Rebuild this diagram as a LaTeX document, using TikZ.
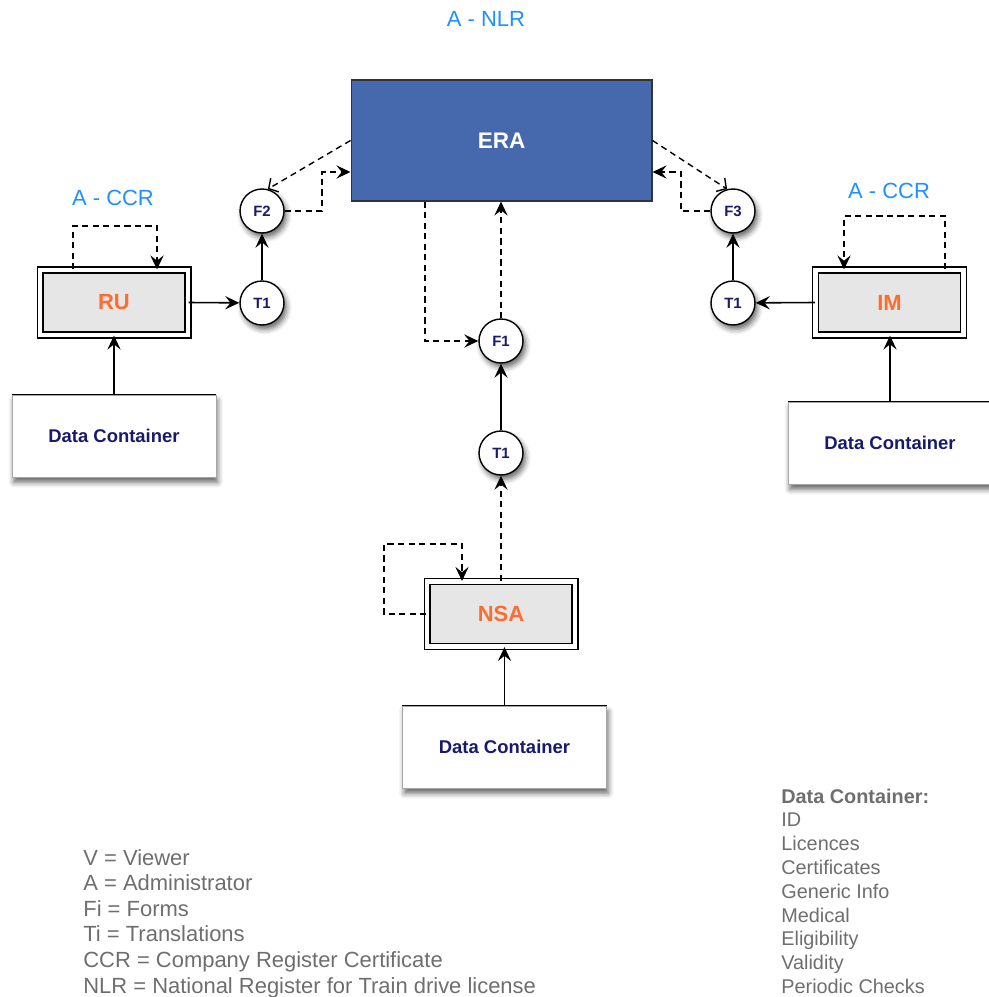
\documentclass[tikz,border=0pt]{standalone}
\usepackage{fontspec}
\setmainfont{Liberation Sans}
\setsansfont{Liberation Sans}
\usetikzlibrary{arrows.meta,shadows,shadows.blur}
\definecolor{lblue}{RGB}{30,144,255}
\definecolor{erablue}{RGB}{70,104,172}
\definecolor{boxgray}{RGB}{230,230,230}
\definecolor{orangetxt}{RGB}{255,108,48}
\definecolor{navytxt}{RGB}{25,25,110}
\definecolor{legendgray}{RGB}{110,110,110}
\begin{document}
\begin{tikzpicture}[x=0.02cm,y=-0.02cm,
  every node/.style={font=\sffamily},
  actor/.style={draw=black, line width=0.6pt, double=white, double distance=2.8pt,
    fill=boxgray, minimum width=2.96cm, minimum height=1.3cm, inner sep=0pt,
    font=\sffamily\bfseries\fontsize{12.5}{14}\selectfont, text=orangetxt},
  dbox/.style={draw=black!35, line width=0.4pt, fill=white, minimum width=4.08cm,
    minimum height=1.64cm, inner sep=0pt,
    blur shadow={shadow xshift=1pt, shadow yshift=-3pt, shadow blur radius=3pt, shadow opacity=60},
    font=\sffamily\bfseries\fontsize{10.5}{12}\selectfont, text=navytxt},
  circ/.style={circle, draw=black, line width=0.8pt, fill=white, minimum size=0.88cm,
    inner sep=0pt, blur shadow={shadow xshift=1.5pt, shadow yshift=-2.5pt, shadow blur radius=3pt, shadow opacity=60},
    font=\sffamily\bfseries\fontsize{8.5}{9}\selectfont, text=navytxt},
  lbl/.style={text=lblue, font=\sffamily\fontsize{12.5}{14}\selectfont},
  sl/.style={line width=0.9pt, -{Stealth[length=8pt,width=7.5pt,inset=3pt]}},
  dl/.style={sl, dash pattern=on 3.5pt off 2.5pt},
  dlo/.style={line width=0.8pt, dash pattern=on 3.5pt off 2.5pt, -{Straight Barb[length=4pt,width=9pt]}},
  leg/.style={anchor=base west, inner sep=0pt, text=legendgray, font=\sffamily\fontsize{12.5}{14}\selectfont},
  lst/.style={anchor=base west, inner sep=0pt, text=legendgray, font=\sffamily\fontsize{11.3}{13}\selectfont}
]
\useasboundingbox (0,0) rectangle (988,997);

% labels
\node[lbl] (nlr) at (486,19) {A - NLR};
\node[lbl] (ccrl) at (113,198) {A - CCR};
\node[lbl] (ccrr) at (889,191) {A - CCR};

% ERA
\node[draw=black!80, line width=0.6pt, fill=erablue, minimum width=6.02cm, minimum height=2.42cm,
  text=white, font=\sffamily\bfseries\fontsize{12.8}{14}\selectfont] (ERA) at (501.5,140.5) {ERA};

% actors
\node[actor] (RU) at (114,302.5) {RU};
\node[actor] (IM) at (889.5,302.5) {IM};
\node[actor] (NSA) at (501,614) {NSA};

% data containers
\node[dbox] (DL) at (114,436) {Data Container};
\node[dbox] (DR) at (890,443) {Data Container};
\node[dbox] (DC) at (504.5,747) {Data Container};
\draw[line width=0.9pt] (DL.north west) -- (DL.north east);
\draw[line width=0.9pt] (DR.north west) -- (DR.north east);
\draw[line width=0.9pt] (DC.north west) -- (DC.north east);

% circles
\node[circ] (F2) at (262,211) {F2};
\node[circ] (F3) at (733,211) {F3};
\node[circ] (F1) at (501,341) {F1};
\node[circ] (T1L) at (262,303) {T1};
\node[circ] (T1R) at (733,303) {T1};
\node[circ] (T1C) at (501,453) {T1};

% helper coordinates
\coordinate (f2k) at (322,172);
\coordinate (f3k) at (681,172);
\coordinate (ruA) at (73,226);
\coordinate (ruB) at (157,226);
\coordinate (imA) at (945,216);
\coordinate (imB) at (844,216);
\coordinate (nsA) at (384,544);
\coordinate (nsB) at (462,544);
\coordinate (ek) at (425,201);

% solid connectors
\draw[sl] (RU.east) -- (T1L);
\draw[sl] (T1L) -- (F2);
\draw[sl] (IM.west) -- (T1R);
\draw[sl] (T1R) -- (F3);
\draw[sl] (T1C) -- (F1);
\draw[sl] (DL.north) -- (RU.south);
\draw[sl] (DR.north) -- (DR.north |- IM.south);
\draw[sl] (DC.north) -- (DC.north |- NSA.south);

% dashed connectors
\draw[dl] (F2.east) -| (f2k) -- (f2k -| ERA.west);
\draw[dl] (F3.west) -| (f3k) -- (f3k -| ERA.east);
\draw[dlo] (ERA.west) -- (F2.75);
\draw[dlo] (ERA.east) -- (F3.105);
\draw[dl] (F1.north) -- (F1 |- ERA.south);
\draw[dl] (ek |- ERA.south) |- (F1.west);
\draw[dl] (NSA.north) -- (T1C.south);
\draw[dl] (ruA |- RU.north) -- (ruA) -- (ruB) -- (ruB |- RU.north);
\draw[dl] (imA |- IM.north) -- (imA) -- (imB) -- (imB |- IM.north);
\draw[dl] (NSA.west) -| (nsA) -- (nsB) -- (nsB |- NSA.north);

% legend
\foreach \t [count=\i from 0] in {V = Viewer, A = Administrator, Fi = Forms, Ti = Translations,
  CCR = Company Register Certificate, NLR = National Register for Train drive license}
  \node[leg] (leg\i) at (83,{865+25.6*\i}) {\t};

\node[lst, font=\sffamily\bfseries\fontsize{11.3}{13}\selectfont] (lst0) at (781,803) {Data Container:};
\foreach \t [count=\i from 1] in {ID, Licences, Certificates, Generic Info, Medical, Eligibility, Validity, Periodic Checks}
  \node[lst] (lst\i) at (781,{803+23.8*\i}) {\t};
\end{tikzpicture}
\end{document}
